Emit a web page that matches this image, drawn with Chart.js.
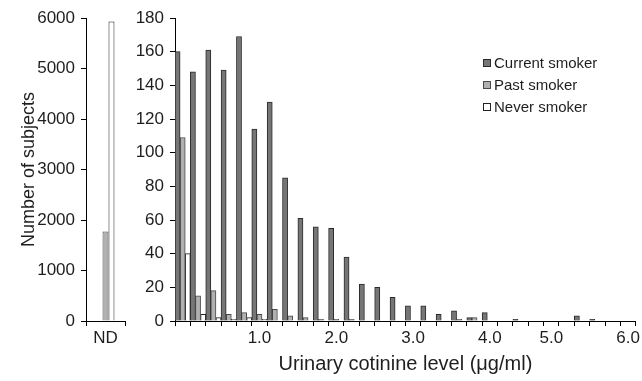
<!DOCTYPE html>
<html>
<head>
<meta charset="utf-8">
<script src="https://cdn.jsdelivr.net/npm/chart.js@4.4.1/dist/chart.umd.min.js"></script>
<style>
  body { margin: 0; background: #fff; }
  #wrap { position: relative; width: 642px; height: 381px; }
  canvas { position: absolute; top: 0; }
</style>
</head>
<body>
<div id="wrap">
  <canvas id="ndChart" width="135" height="381" style="left:0"></canvas>
  <canvas id="levelChart" width="512" height="381" style="left:130px"></canvas>
</div>
<script>
// series names (legend)
const seriesNames = ['Current smoker', 'Past smoker', 'Never smoker'];

// left panel: not detected
const ndCategory = ['ND'];
const ndCurrent = [0];
const ndPast = [1770];
const ndNever = [5930];

// right panel: 0.2 ug/ml bins from 0 to 6.0
const levelBins = ['0.0', '0.2', '0.4', '0.6', '0.8', '1.0', '1.2', '1.4', '1.6', '1.8',
                   '2.0', '2.2', '2.4', '2.6', '2.8', '3.0', '3.2', '3.4', '3.6', '3.8',
                   '4.0', '4.2', '4.4', '4.6', '4.8', '5.0', '5.2', '5.4', '5.6', '5.8'];
const currentCounts = [160, 148, 161, 149, 169, 114, 130, 85, 61, 56,
                       55, 38, 22, 20, 14, 9, 9, 4, 6, 2,
                       5, 0, 1, 0, 0, 0, 3, 1, 0, 0];
const pastCounts = [109, 15, 18, 4, 5, 4, 7, 3, 2, 1,
                    1, 1, 0, 0, 0, 0, 0, 0, 1, 2,
                    0, 0, 0, 0, 0, 0, 0, 0, 0, 0];
const neverCounts = [40, 4, 2, 1, 2, 1, 0, 0, 0, 0,
                     0, 0, 0, 0, 0, 0, 0, 0, 0, 0,
                     0, 0, 0, 0, 0, 0, 0, 0, 0, 0];
const xTickLabels = ['', '', '', '', '', '1.0', '', '', '', '',
                     '2.0', '', '', '', '', '3.0', '', '', '', '',
                     '4.0', '', '', '', '5.0', '', '', '', '', '6.0'];

const fontFamily = '"Liberation Sans", Arial, Helvetica, sans-serif';
const ink = '#1e1e1e';

const styles = [
    { backgroundColor: '#767676', borderColor: '#2b2b2b' },
    { backgroundColor: '#b0b0b0', borderColor: '#4a4a4a' },
    { backgroundColor: '#ffffff', borderColor: '#222222' }
];

function makeSets(lists, catPct) {
    return lists.map((vals, i) => ({
        label: seriesNames[i],
        data: vals,
        backgroundColor: styles[i].backgroundColor,
        borderColor: styles[i].borderColor,
        borderWidth: 1,
        barPercentage: 1,
        categoryPercentage: catPct
    }));
}

// little legend drawn inside the plot, top right
const cornerLegend = {
    id: 'cornerLegend',
    afterDraw(chart, args, opts) {
        if (!opts.show) return;
        const ctx = chart.ctx;
        ctx.save();
        ctx.font = '15px ' + fontFamily;
        ctx.textBaseline = 'middle';
        chart.data.datasets.forEach((ds, i) => {
            const y = opts.top + i * opts.rowHeight;
            ctx.fillStyle = ds.backgroundColor;
            ctx.fillRect(opts.left, y - 4, 8, 8);
            ctx.strokeStyle = ds.borderColor;
            ctx.lineWidth = 1;
            ctx.strokeRect(opts.left + 0.5, y - 3.5, 7, 7);
            ctx.fillStyle = ink;
            ctx.fillText(ds.label, opts.left + 11, y + 1);
        });
        ctx.restore();
    }
};

function axisBase() {
    return {
        border: { display: true, color: '#000', width: 1 },
        grid: { drawOnChartArea: false, color: '#000', tickLength: 5, tickWidth: 1 }
    };
}

// left panel
new Chart(document.getElementById('ndChart'), {
    type: 'bar',
    data: {
        labels: ndCategory,
        datasets: makeSets([ndCurrent, ndPast, ndNever], 0.46)
    },
    plugins: [cornerLegend],
    options: {
        responsive: false,
        animation: false,
        layout: { padding: { top: 18, right: 10, bottom: 0, left: 0 } },
        plugins: { legend: { display: false }, tooltip: { enabled: false }, cornerLegend: { show: false } },
        scales: {
            x: Object.assign(axisBase(), {
                offset: true,
                grid: { drawOnChartArea: false, color: '#000', tickLength: 5, offset: true },
                ticks: { color: ink, font: { family: fontFamily, size: 17 }, padding: 2 },
                afterFit(s) { s.height = 60; }
            }),
            y: Object.assign(axisBase(), {
                min: 0,
                max: 6000,
                ticks: {
                    stepSize: 1000, padding: 6, color: ink,
                    font: { family: fontFamily, size: 17 },
                    callback: v => String(v)
                },
                title: {
                    display: true,
                    text: 'Number of subjects',
                    color: ink,
                    font: { family: fontFamily, size: 18 },
                    padding: { top: 18, bottom: 0 }
                },
                afterFit(s) { s.width = 86; }
            })
        }
    }
});

// right panel
new Chart(document.getElementById('levelChart'), {
    type: 'bar',
    data: {
        labels: levelBins,
        datasets: makeSets([currentCounts, pastCounts, neverCounts], 1)
    },
    plugins: [cornerLegend],
    options: {
        responsive: false,
        animation: false,
        layout: { padding: { top: 18, right: 6, bottom: 0, left: 0 } },
        plugins: {
            legend: { display: false },
            tooltip: { enabled: false },
            cornerLegend: { show: true, left: 353, top: 63, rowHeight: 22 }
        },
        scales: {
            x: Object.assign(axisBase(), {
                offset: true,
                grid: { drawOnChartArea: false, color: '#000', tickLength: 5, offset: true },
                ticks: {
                    autoSkip: false,
                    maxRotation: 0,
                    padding: 2,
                    color: ink,
                    font: { family: fontFamily, size: 17 },
                    callback: (v, i) => xTickLabels[i]
                },
                title: {
                    display: true,
                    text: 'Urinary cotinine level (μg/ml)',
                    color: ink,
                    font: { family: fontFamily, size: 20 },
                    padding: { top: 4, bottom: 5 }
                },
                afterFit(s) { s.height = 60; }
            }),
            y: Object.assign(axisBase(), {
                min: 0,
                max: 180,
                ticks: { stepSize: 20, padding: 6, color: ink, font: { family: fontFamily, size: 17 } },
                afterFit(s) { s.width = 45; }
            })
        }
    }
});
</script>
</body>
</html>
